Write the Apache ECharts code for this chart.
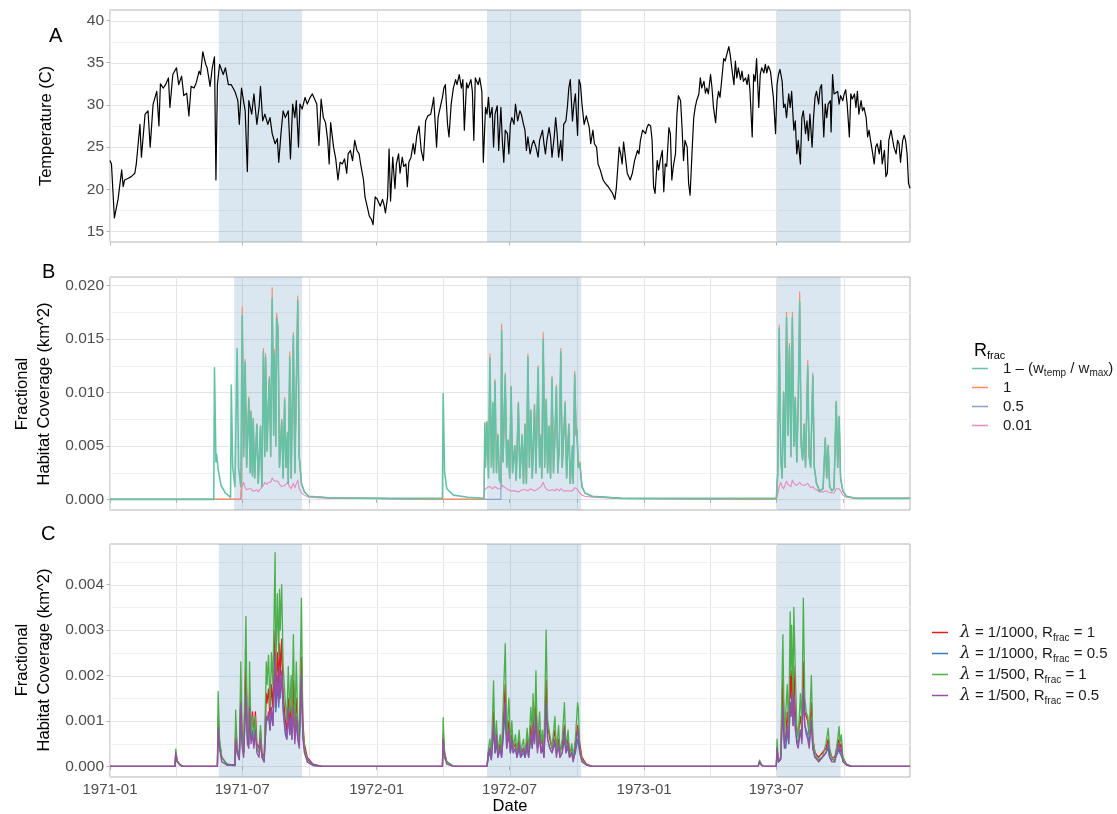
<!DOCTYPE html>
<html>
<head>
<meta charset="utf-8">
<script src="https://cdn.jsdelivr.net/npm/echarts@6/dist/echarts.min.js"></script>
<style>
  html, body { margin: 0; padding: 0; background: #fff; }
  #chart { width: 1117px; height: 814px; }
</style>
</head>
<body>
<div id="chart"></div>
<script>
// ---------- time helpers (x values are days since 1971-01-01) ----------
const DAY = 86400000;
const START = Date.parse('1971-01-01');
const END_DAY = 1095;
const dayOf = s => Math.round((Date.parse(s) - START) / DAY);

// ---------- axis breaks ----------
const majorDates = ['1971-01-01', '1971-07-01', '1972-01-01', '1972-07-01', '1973-01-01', '1973-07-01'];
const quarterDates = ['1971-04-01', '1971-10-01', '1972-04-01', '1972-10-01', '1973-04-01', '1973-10-01'];
const tempTicks = [15, 20, 25, 30, 35, 40];
const tempMinor = [17.5, 22.5, 27.5, 32.5, 37.5];
const coverTicksB = [0, 0.005, 0.01, 0.015, 0.02];
const coverMinorB = [0.0025, 0.0075, 0.0125, 0.0175];
const coverTicksC = [0, 0.001, 0.002, 0.003, 0.004];
const coverMinorC = [0.0005, 0.0015, 0.0025, 0.0035, 0.0045];

// ---------- shaded windows [startDay, endDay] ----------
const windowsAC = [[149, 263], [516, 645], [913, 1000]];
const windowsB = [[170, 263], [516, 645], [913, 1000]];

// ---------- panel A: daily water temperature (day, °C) ----------
const temperature = [
  [0,23.4],[2,23.0],[6,16.6],[11,18.8],[16,22.3],[18,20.3],[20,21.1],[25,21.3],[29,21.5],[34,21.9],
  [36,23.0],[41,27.7],[43,23.8],[48,28.9],[52,29.3],[55,25.0],[59,30.1],[64,31.6],[67,27.5],[69,32.5],
  [73,32.0],[76,32.4],[80,33.2],[82,29.7],[86,33.6],[91,34.4],[94,32.4],[98,33.4],[101,31.1],[105,31.4],
  [108,28.7],[111,32.2],[115,32.0],[118,32.6],[122,34.0],[124,33.6],[127,36.3],[131,34.8],[133,34.4],[137,32.2],
  [140,34.4],[143,35.7],[145,21.1],[147,32.4],[150,34.8],[155,33.6],[158,34.4],[162,32.4],[166,32.4],[171,31.6],
  [175,30.5],[177,27.7],[180,32.0],[185,29.3],[188,22.1],[190,30.5],[194,28.9],[197,31.3],[201,27.7],[204,29.7],
  [206,32.2],[209,28.1],[212,28.9],[216,27.7],[219,28.5],[222,26.6],[226,25.4],[229,26.0],[231,23.2],[234,26.6],
  [237,29.3],[240,28.5],[244,29.3],[247,23.6],[250,30.1],[253,28.5],[255,30.5],[258,25.0],[260,30.1],[263,29.5],
  [267,30.9],[270,30.1],[274,30.9],[277,31.3],[280,30.7],[283,30.1],[286,25.2],[289,30.7],[292,28.5],[295,27.9],
  [298,25.8],[300,23.0],[302,27.9],[306,25.0],[309,23.6],[312,21.1],[315,23.2],[318,23.0],[321,23.6],[324,21.9],
  [326,24.2],[329,24.6],[332,23.4],[335,25.8],[338,24.6],[341,24.2],[343,23.0],[347,21.1],[349,19.1],[353,17.6],
  [355,16.8],[358,16.4],[360,15.8],[363,19.1],
  [366,18.8],[370,18.0],[373,18.8],[375,18.2],[377,17.2],[380,19.1],[382,24.8],[384,18.6],[387,23.8],[390,20.1],
  [392,23.0],[395,24.2],[397,21.9],[400,23.8],[402,22.7],[405,23.0],[407,20.3],[409,23.2],[412,23.8],[415,25.4],
  [417,24.2],[420,26.4],[423,27.5],[426,24.6],[429,23.4],[432,28.1],[435,28.7],[439,28.9],[442,30.3],[443,30.9],
  [447,25.0],[449,28.5],[452,29.7],[455,30.9],[457,32.0],[459,32.4],[462,27.7],[464,26.2],[467,30.1],[470,32.0],
  [473,33.0],[475,32.4],[478,33.6],[481,32.0],[483,33.0],[485,27.0],[488,32.6],[490,32.0],[494,33.0],[496,31.6],
  [498,25.8],[500,33.2],[504,32.4],[506,33.2],[509,31.6],[511,23.2],[514,29.7],[516,28.9],[518,30.9],[520,28.5],
  [523,29.7],[525,25.0],[527,28.9],[530,29.9],[532,24.6],[535,29.7],[537,25.8],[539,23.2],[541,27.0],[544,26.6],
  [546,24.2],[548,27.7],[550,28.5],[553,27.7],[555,30.1],[558,28.1],[561,29.3],[563,28.9],[566,27.7],[568,27.0],
  [570,24.6],[572,26.2],[575,24.2],[578,25.4],[580,25.8],[583,25.0],[586,23.8],[588,25.8],[592,27.0],[594,25.4],
  [596,24.2],[598,25.8],[601,27.3],[603,26.2],[605,23.8],[608,26.2],[610,28.5],[612,26.6],[614,23.8],[617,25.8],
  [619,23.4],[621,27.7],[624,28.1],[626,29.7],[628,32.0],[630,33.0],[633,28.1],[635,30.1],[637,31.3],[640,26.4],
  [642,33.0],[644,32.4],[646,30.1],[649,27.7],[652,28.7],[656,27.3],[658,25.4],[661,27.0],[663,25.4],[666,25.0],
  [668,23.0],[671,22.3],[675,21.1],[678,20.7],[682,20.3],[685,19.9],[688,19.5],[691,18.8],[693,20.1],[697,25.0],
  [699,24.2],[701,23.0],[703,25.6],[706,23.4],[708,21.9],[712,21.1],[715,21.9],[718,23.4],[722,24.6],[724,24.2],
  [726,25.8],[729,27.0],
  [731,27.1],[733,26.6],[735,27.3],[737,27.7],[740,27.5],[742,25.8],[744,20.3],[746,19.5],[749,23.4],[751,22.3],
  [753,23.4],[756,24.6],[758,19.7],[760,23.0],[762,22.7],[765,27.3],[767,26.6],[769,21.1],[771,22.7],[774,24.2],
  [776,28.9],[778,31.1],[781,30.5],[783,27.3],[785,23.4],[787,25.8],[790,25.0],[792,20.7],[794,19.3],[797,25.0],
  [799,28.5],[801,29.7],[803,30.5],[806,31.3],[808,33.2],[810,32.0],[813,32.8],[815,31.4],[817,32.0],[819,31.3],
  [822,33.6],[824,32.0],[826,29.7],[829,27.9],[831,30.5],[833,31.6],[835,30.9],[838,33.6],[840,35.5],[842,35.2],
  [844,35.9],[847,36.9],[849,35.9],[851,34.4],[854,32.4],[856,35.2],[858,33.2],[860,34.4],[863,33.0],[865,34.0],
  [867,32.8],[870,33.2],[872,32.4],[874,33.6],[876,31.6],[879,26.2],[881,33.6],[883,32.8],[885,35.5],[888,29.7],
  [890,33.6],[892,34.4],[895,33.8],[897,34.8],[899,33.8],[901,34.6],[904,34.0],[906,32.4],[908,30.9],[911,26.6],
  [913,32.4],[915,33.6],[917,34.2],[920,32.8],[922,29.7],[924,30.1],[926,28.5],[929,31.3],[931,29.7],[933,31.6],
  [936,27.0],[938,28.1],[940,24.2],[942,25.8],[945,23.0],[947,28.5],[949,29.3],[952,26.6],[954,28.1],[956,25.8],
  [958,28.9],[961,25.0],[963,28.5],[965,30.9],[967,31.6],[970,30.1],[972,32.0],[974,32.4],[977,26.2],[979,30.1],
  [981,28.5],[983,30.1],[986,30.5],[987,26.8],[989,33.6],[991,31.3],[993,31.1],[996,31.6],[998,30.1],[1000,31.1],
  [1003,30.5],[1005,31.3],[1007,31.8],[1009,30.1],[1012,26.2],[1014,31.3],[1016,30.7],[1019,31.3],[1021,29.7],[1023,31.6],
  [1025,28.9],[1028,30.5],[1030,29.3],[1032,29.7],[1035,28.5],[1037,26.2],[1039,27.0],[1041,25.8],[1044,24.2],[1046,23.0],
  [1048,25.0],[1050,25.4],[1053,24.2],[1055,25.8],[1057,23.0],[1060,24.6],[1062,21.5],[1064,21.9],[1066,25.8],[1069,27.0],
  [1071,27.1],[1073,25.0],[1076,24.2],[1078,25.8],[1080,25.4],[1082,23.2],[1085,25.8],[1087,26.4],[1089,25.8],[1091,24.2],
  [1093,20.7],[1095,20.1]
];

// ---------- panel B: fractional habitat coverage by R_frac (km^2) ----------
const bDays = [
  0,142,143,145,146,148,152,158,165,166,
  168,171,174,176,179,180,181,183,185,187,
  190,192,193,195,196,198,201,203,206,208,
  210,212,213,215,217,218,220,222,224,225,
  227,228,230,232,235,237,239,241,243,244,
  246,248,251,253,257,259,262,266,272,300,
  360,455,456,458,461,470,490,512,513,514,
  516,518,520,522,524,525,527,529,531,533,
  535,536,538,541,543,545,547,549,551,554,
  556,559,561,564,566,568,570,572,574,576,
  578,581,583,586,588,590,591,593,595,597,
  599,601,603,605,607,609,611,613,615,617,
  619,621,623,625,628,630,633,634,636,638,
  639,641,643,646,650,660,700,912,914,916,
  918,920,922,924,926,928,930,932,934,936,
  938,940,942,944,946,948,950,952,955,957,
  959,962,964,967,971,976,979,981,983,985,
  988,991,994,996,998,1000,1003,1008,1020,1095
];
const bFormula = [
  0,0,.0123,.0035,.0042,.0028,.0013,.0006,.0002,.0107,
  .0030,.0012,.0141,.0030,.0012,.0012,.0172,.0040,.0128,.0030,
  .0094,.0025,.0082,.0022,.0075,.0020,.0070,.0015,.0068,.0012,
  .0138,.0040,.0133,.0045,.0093,.0113,.0040,.0188,.0060,.0136,
  .0050,.0169,.0160,.0030,.0074,.0020,.0093,.0030,.0062,.0015,
  .0133,.0020,.0153,.0025,.0186,.0040,.0015,.0007,.0003,.00015,
  .0001,.0001,.0099,.0025,.0010,.0004,.0002,.0001,.0071,.0030,
  .0072,.0020,.0132,.0030,.0090,.0025,.0110,.0025,.0060,.0018,
  .0015,.0158,.0035,.0116,.0030,.0055,.0020,.0105,.0025,.0050,
  .0018,.0090,.0020,.0060,.0015,.0070,.0015,.0133,.0030,.0083,
  .0020,.0088,.0025,.0123,.0030,.0060,.0020,.0150,.0030,.0093,
  .0025,.0068,.0020,.0113,.0025,.0060,.0105,.0025,.0050,.0138,
  .0030,.0060,.0090,.0020,.0070,.0015,.0050,.0015,.0117,.0060,
  .0065,.0030,.0034,.0012,.0006,.0003,.0001,.0001,.0025,.0160,
  .0040,.0020,.0100,.0030,.0170,.0060,.0143,.0040,.0170,.0050,
  .0095,.0035,.0090,.0185,.0050,.0037,.0070,.0030,.0125,.0040,
  .0030,.0116,.0030,.0015,.0008,.0010,.0057,.0020,.0050,.0012,
  .0008,.0010,.0091,.0030,.0077,.0020,.0008,.0003,.0001,.0001
];
const bR1 = [
  0,0,0,0,0,0,0,0,0,0,
  0,0,0,0,0,.0012,.0180,.0042,.0131,.0031,
  .0096,.0026,.0083,.0023,.0076,.0020,.0071,.0015,.0069,.0012,
  .0141,.0041,.0136,.0046,.0095,.0115,.0041,.0198,.0062,.0140,
  .0051,.0174,.0162,.0031,.0075,.0020,.0095,.0030,.0063,.0015,
  .0138,.0020,.0156,.0025,.0190,.0041,.0015,.0007,.0003,.00015,
  .0001,0,0,0,0,0,0,0,.0072,.0031,
  .0073,.0021,.0136,.0031,.0091,.0025,.0112,.0025,.0061,.0018,
  .0015,.0164,.0036,.0118,.0030,.0056,.0020,.0106,.0025,.0050,
  .0018,.0091,.0020,.0061,.0015,.0071,.0015,.0136,.0030,.0084,
  .0020,.0089,.0025,.0125,.0030,.0061,.0020,.0156,.0030,.0094,
  .0025,.0069,.0020,.0115,.0025,.0061,.0107,.0025,.0050,.0141,
  .0030,.0061,.0092,.0020,.0071,.0015,.0050,.0015,.0120,.0061,
  .0066,.0030,.0035,.0012,.0006,.0003,.0001,0,.0025,.0163,
  .0041,.0020,.0101,.0030,.0175,.0061,.0146,.0041,.0175,.0051,
  .0096,.0035,.0091,.0194,.0051,.0037,.0071,.0030,.0130,.0041,
  .0030,.0118,.0030,.0015,.0008,.0010,.0058,.0020,.0051,.0012,
  .0008,.0010,.0092,.0030,.0078,.0020,.0008,.0003,.0001,.0001
];
const bR05 = [
  0,0,0,0,0,0,0,0,0,0,
  0,0,0,0,0,.0012,.0170,.0050,.0125,.0030,
  .0090,.0025,.0080,.0022,.0072,.0020,.0068,.0015,.0065,.0012,
  .0135,.0063,.0130,.0065,.0090,.0110,.0060,.0185,.0085,.0132,
  .0070,.0165,.0155,.0030,.0072,.0020,.0090,.0030,.0060,.0015,
  .0130,.0020,.0150,.0025,.0182,.0040,.0015,.0007,.0003,.00015,
  .0001,0,0,0,0,0,0,0,0,0,
  0,0,0,0,0,0,0,0,0,0,
  0,.0155,.0035,.0112,.0030,.0054,.0020,.0100,.0025,.0050,
  .0018,.0088,.0020,.0058,.0015,.0068,.0015,.0130,.0045,.0080,
  .0020,.0085,.0025,.0118,.0030,.0058,.0020,.0145,.0045,.0090,
  .0025,.0066,.0020,.0110,.0025,.0058,.0100,.0025,.0050,.0133,
  .0030,.0058,.0087,.0020,.0068,.0015,.0049,.0015,.0113,.0060,
  .0064,.0030,.0034,.0012,.0006,.0003,.0001,0,.0025,.0158,
  .0040,.0020,.0098,.0030,.0165,.0090,.0140,.0070,.0168,.0050,
  .0090,.0035,.0088,.0180,.0055,.0037,.0068,.0030,.0122,.0040,
  .0030,.0112,.0030,.0015,.0008,.0010,.0055,.0020,.0049,.0012,
  .0008,.0010,.0090,.0030,.0075,.0020,.0008,.0003,.0001,.0001
];
const bR001 = [
  0,0,0,0,0,0,0,0,0,0,
  0,0,0,0,0,.0010,.0013,.0016,.0011,.0009,
  .0010,.0009,.0010,.0008,.0009,.0008,.0009,.0007,.0010,.0009,
  .0013,.0016,.0015,.0014,.0016,.0017,.0016,.0020,.0018,.0019,
  .0017,.0018,.0017,.0014,.0012,.0011,.0013,.0012,.0016,.0014,
  .0012,.0010,.0015,.0011,.0018,.0010,.0006,.0004,.0002,.0001,
  .0001,0,0,0,0,0,0,0,.0009,.0010,
  .0011,.0010,.0012,.0011,.0010,.0010,.0012,.0011,.0010,.0009,
  .0010,.0014,.0012,.0011,.0010,.0009,.0008,.0008,.0009,.0008,
  .0007,.0007,.0008,.0009,.0008,.0009,.0008,.0008,.0009,.0010,
  .0009,.0008,.0009,.0010,.0011,.0012,.0013,.0016,.0012,.0010,
  .0009,.0008,.0008,.0009,.0008,.0008,.0010,.0009,.0008,.0010,
  .0009,.0008,.0009,.0008,.0008,.0007,.0008,.0008,.0011,.0010,
  .0010,.0008,.0006,.0004,.0003,.0002,.0001,0,.0005,.0012,
  .0016,.0012,.0010,.0011,.0017,.0014,.0013,.0012,.0018,.0015,
  .0014,.0013,.0013,.0016,.0014,.0013,.0013,.0012,.0015,.0013,
  .0011,.0012,.0010,.0009,.0007,.0007,.0008,.0007,.0007,.0006,
  .0006,.0006,.0010,.0009,.0010,.0008,.0004,.0002,.0001,.0001
];

// ---------- panel C: coverage by decay rate and R_frac (km^2) ----------
const cDays = [
  0,89,90,92,96,100,147,148,150,153,
  160,171,172,174,177,179,181,183,186,188,
  190,191,193,195,197,199,201,204,206,208,
  211,214,215,217,219,221,223,226,227,229,
  231,232,233,235,237,240,242,244,246,248,
  249,251,253,255,257,259,262,264,266,270,
  278,290,455,456,458,461,470,516,518,520,
  522,525,527,529,531,534,536,541,543,546,
  548,550,552,555,557,560,562,566,568,571,
  573,576,578,579,581,583,585,588,590,592,
  594,597,599,602,605,609,611,614,616,619,
  622,624,627,629,632,634,637,640,641,643,
  646,652,660,887,889,892,895,912,913,915,
  918,921,923,925,927,929,931,932,933,935,
  936,938,940,942,945,947,949,951,953,955,
  957,960,962,965,970,975,980,983,985,988,
  992,996,998,999,1001,1003,1008,1015,1095
];
const cL1000R1 = [
  0,0,.0003,.00012,.00004,0,0,.0011,.0005,.0002,
  .00005,.00003,.0009,.0004,.0002,.0016,.0006,.0004,.0022,.0008,
  .0007,.0016,.0008,.0012,.0007,.0012,.0005,.0004,.0008,.0003,
  .0002,.0016,.0014,.0017,.0011,.0018,.0013,.0030,.0016,.0025,
  .0018,.0027,.0020,.0028,.0016,.0010,.0008,.0015,.0009,.0014,
  .0008,.0019,.0008,.0015,.0009,.0006,.0024,.0010,.0005,.0002,
  .00005,0,0,.0007,.0003,.0001,0,0,.0003,.0004,
  .0002,.0012,.0004,.0007,.0003,.0005,.0003,.0018,.0006,.0010,
  .0005,.0007,.0004,.0005,.0003,.0006,.0003,.0004,.0003,.0006,
  .0003,.0009,.0006,.0011,.0007,.0014,.0005,.0008,.0005,.0006,
  .0003,.0019,.0009,.0006,.0004,.0008,.0004,.0006,.0003,.0005,
  .0009,.0004,.0006,.0003,.0004,.0002,.0005,.0009,.0009,.0005,
  .0002,.00005,0,0,.0001,.00003,0,0,.0004,.0001,
  .0002,.0019,.0007,.0006,.0012,.0008,.0021,.0015,.0021,.0013,
  .0022,.0012,.0008,.0007,.0011,.0008,.0023,.0012,.0011,.0010,
  .0007,.0014,.0006,.0003,.0002,.0003,.0004,.0006,.0003,.0002,
  .0002,.0005,.0006,.0004,.0005,.0002,.00005,0,0
];
const cL1000R05 = [
  0,0,.00025,.0001,.00003,0,0,.0008,.0004,.0002,
  .00005,.00003,.0006,.0003,.00015,.0011,.0005,.0003,.0015,.0006,
  .0005,.0012,.0006,.0008,.0005,.0008,.0004,.0003,.0006,.0002,
  .00015,.0010,.0010,.0011,.0008,.0012,.0009,.0021,.0012,.0018,
  .0013,.0020,.0015,.0020,.0012,.0007,.0006,.0011,.0007,.0010,
  .0006,.0013,.0006,.0010,.0006,.0005,.0017,.0007,.0004,.00015,
  .00004,0,0,.0005,.0002,.0001,0,0,.0002,.0003,
  .00015,.0008,.0003,.0005,.0002,.0004,.0002,.0012,.0004,.0007,
  .0003,.0005,.0003,.0004,.0002,.0004,.0002,.0003,.0002,.0004,
  .0002,.0006,.0004,.0008,.0005,.0010,.0004,.0006,.0003,.0004,
  .0002,.0013,.0006,.0004,.0003,.0005,.0003,.0004,.0002,.0003,
  .0006,.0003,.0004,.0002,.0003,.00015,.0003,.0006,.0006,.0003,
  .00015,.00004,0,0,.00008,.00002,0,0,.0003,.0001,
  .00015,.0013,.0005,.0004,.0008,.0005,.0014,.0011,.0015,.0009,
  .0015,.0008,.0006,.0005,.0008,.0006,.0016,.0009,.0008,.0007,
  .0005,.0010,.0004,.0002,.00015,.0002,.0003,.0004,.0002,.00015,
  .00015,.0003,.0004,.0003,.0003,.00015,.00004,0,0
];
const cL500R1 = [
  0,0,.00038,.00012,.00003,0,0,.00165,.0006,.0002,
  .00003,.00002,.00124,.0004,.0002,.0023,.0005,.0003,.0033,.0007,
  .0006,.0023,.0007,.0011,.0006,.0011,.0004,.0003,.0009,.0002,
  .0001,.0023,.0018,.00245,.0013,.0025,.0018,.0047,.0020,.0038,
  .0024,.0039,.0030,.0040,.0022,.0014,.0010,.0022,.0012,.0020,
  .0010,.0029,.0009,.0023,.0010,.0006,.0037,.0009,.0004,.0001,
  .00002,0,0,.00107,.0003,.0001,0,0,.00038,.0006,
  .0002,.00188,.0004,.0010,.0003,.0007,.0003,.0027,.0006,.0015,
  .0005,.0010,.0004,.0007,.0003,.0008,.0003,.0006,.0002,.00084,
  .0003,.0013,.0007,.0016,.0008,.0021,.0004,.0012,.0005,.0008,
  .0003,.0030,.0010,.0007,.0004,.0011,.0003,.0009,.0003,.0006,
  .0014,.0004,.0008,.0002,.0005,.0002,.0006,.0014,.0013,.0004,
  .00015,.00003,0,0,.00014,.00003,0,0,.0006,.0001,
  .0002,.0029,.0006,.0006,.0018,.0007,.0034,.0020,.0031,.0015,
  .0035,.0021,.0009,.0006,.0016,.0009,.0037,.0015,.0012,.0011,
  .0007,.0020,.0006,.0003,.0001,.0002,.0005,.00084,.0004,.0002,
  .0001,.0006,.00088,.0005,.0007,.0002,.00003,0,0
];
const cL500R05 = [
  0,0,.0003,.0001,.00003,0,0,.00085,.0004,.0001,
  .00003,.00002,.0006,.0003,.00015,.0014,.0004,.0002,.0016,.0005,
  .0004,.0013,.0005,.0007,.0004,.0008,.0003,.0002,.0006,.0002,
  .0001,.0011,.0010,.0012,.0008,.0013,.0009,.0025,.0013,.0020,
  .0014,.0022,.0016,.0021,.0013,.0008,.0006,.0013,.0007,.0011,
  .0006,.0013,.0005,.0011,.0006,.0004,.0020,.0006,.0003,.0001,
  .00002,0,0,.0006,.0002,.00005,0,0,.0003,.0004,
  .00015,.00095,.0003,.0007,.0002,.0004,.0002,.0014,.0004,.0008,
  .0003,.0006,.0003,.0004,.0002,.0005,.0002,.0004,.0002,.0005,
  .0002,.0007,.0004,.0009,.0005,.0011,.0003,.0007,.0003,.0005,
  .0002,.0014,.0006,.0004,.0003,.0006,.0002,.0005,.0002,.0003,
  .0008,.0003,.0005,.0002,.0003,.0001,.0004,.0008,.0007,.0003,
  .0001,.00003,0,0,.0001,.00002,0,0,.0004,.0001,
  .00015,.0013,.0004,.0004,.0009,.0005,.0014,.0011,.0016,.0009,
  .0016,.0009,.0005,.0004,.0008,.0005,.0017,.0009,.0007,.0006,
  .0004,.0010,.0004,.0002,.0001,.0002,.0003,.0005,.0002,.0001,
  .0001,.0004,.0005,.0003,.0004,.0001,.00003,0,0
];

// ---------- styling ----------
const FONT = '"Liberation Sans", Arial, Helvetica, sans-serif';
const TICK_COLOR = '#4d4d4d';
const BORDER = '#b3b3b3';
const GRID_MAJOR = '#e4e4e4';
const GRID_MINOR = '#f1f1f1';
const BAND_FILL = 'rgba(70,130,180,0.2)';

const majorDays = majorDates.map(dayOf);
const quarterDays = majorDates.concat(quarterDates).map(dayOf).sort((a, b) => a - b);

const gridRects = [
  { left: 110, top: 10, width: 800, height: 232 },
  { left: 110, top: 277, width: 800, height: 233 },
  { left: 110, top: 544, width: 800, height: 233 }
];

function monthLabel(v) {
  const d = new Date(START + v * DAY);
  return d.getUTCFullYear() + '-' + String(d.getUTCMonth() + 1).padStart(2, '0');
}

// background grid lines drawn through the axis scales
function gridLineSeries(gi, vLines, hMajor, hMinor) {
  const data = [];
  vLines.forEach(t => data.push([t, 0, 0, 1]));
  hMajor.forEach(v => data.push([0, v, 1, 1]));
  hMinor.forEach(v => data.push([0, v, 1, 0]));
  return {
    type: 'custom', xAxisIndex: gi, yAxisIndex: gi, z: 0, silent: true, animation: false,
    data,
    renderItem(params, api) {
      const cs = params.coordSys;
      const pt = api.coord([api.value(0), api.value(1)]);
      const stroke = api.value(3) ? GRID_MAJOR : GRID_MINOR;
      if (api.value(2) === 0) {
        const x = Math.round(pt[0]) + 0.5;
        return { type: 'line', shape: { x1: x, y1: cs.y, x2: x, y2: cs.y + cs.height }, style: { stroke, lineWidth: 1 } };
      }
      const y = Math.round(pt[1]) + 0.5;
      return { type: 'line', shape: { x1: cs.x, y1: y, x2: cs.x + cs.width, y2: y }, style: { stroke, lineWidth: 1 } };
    }
  };
}

// shaded seasonal windows
function bandSeries(gi, windows) {
  return {
    type: 'custom', xAxisIndex: gi, yAxisIndex: gi, z: 1, silent: true, animation: false,
    data: windows.map(w => [w[0], 0, w[1]]),
    renderItem(params, api) {
      const cs = params.coordSys;
      const x0 = api.coord([api.value(0), 0])[0];
      const x1 = api.coord([api.value(2), 0])[0];
      return { type: 'rect', shape: { x: x0, y: cs.y, width: x1 - x0, height: cs.height }, style: { fill: BAND_FILL } };
    }
  };
}

function lineSeries(name, gi, days, values, color, width) {
  return {
    type: 'line', name, xAxisIndex: gi, yAxisIndex: gi, z: 3,
    data: days.map((d, i) => [d, values[i]]),
    symbol: 'none', showSymbol: false, silent: true, animation: false,
    itemStyle: { color },
    lineStyle: { color, width, join: 'round' }
  };
}

function xAxis(gi, tickDays, showLabels) {
  return {
    type: 'value', gridIndex: gi, min: 0, max: END_DAY,
    axisLine: { show: false }, splitLine: { show: false },
    axisTick: { show: true, customValues: tickDays, length: 3.5, lineStyle: { color: BORDER, width: 1 } },
    axisLabel: {
      show: showLabels, customValues: majorDays, formatter: monthLabel,
      color: TICK_COLOR, fontSize: 15, fontFamily: FONT, margin: 5
    }
  };
}

function yAxis(gi, min, max, ticks, fmt) {
  return {
    type: 'value', gridIndex: gi, min, max,
    axisLine: { show: false }, splitLine: { show: false },
    axisTick: { show: true, customValues: ticks, length: 3.5, lineStyle: { color: BORDER, width: 1 } },
    axisLabel: { customValues: ticks, formatter: fmt, color: TICK_COLOR, fontSize: 15.5, fontFamily: FONT, margin: 6 }
  };
}

// legend labels with subscripts
const nameFormula = '1 – (w_temp / w_max)';
const nameR1 = '1', nameR05 = '0.5', nameR001 = '0.01';
const nameC1 = 'λ = 1/1000, R_frac = 1';
const nameC2 = 'λ = 1/1000, R_frac = 0.5';
const nameC3 = 'λ = 1/500, R_frac = 1';
const nameC4 = 'λ = 1/500, R_frac = 0.5';

const legendTextB = {
  [nameFormula]: '{g| }{t|1 – (w}{s|temp}{t| / w}{s|max}{t|)}',
  [nameR1]: '{g| }{t|1}',
  [nameR05]: '{g| }{t|0.5}',
  [nameR001]: '{g| }{t|0.01}'
};
const legendTextC = {
  [nameC1]: '{g| }{l|λ}{t| = 1/1000, R}{s|frac}{t| = 1}',
  [nameC2]: '{g| }{l|λ}{t| = 1/1000, R}{s|frac}{t| = 0.5}',
  [nameC3]: '{g| }{l|λ}{t| = 1/500, R}{s|frac}{t| = 1}',
  [nameC4]: '{g| }{l|λ}{t| = 1/500, R}{s|frac}{t| = 0.5}'
};
function richStyles(gap, lh) {
  return {
    g: { width: gap, fontSize: 15, lineHeight: lh, height: lh },
    t: { fontSize: 15, fontFamily: FONT, color: '#1a1a1a', lineHeight: lh, height: lh },
    s: { fontSize: 10, fontFamily: FONT, color: '#1a1a1a', lineHeight: 9, verticalAlign: 'bottom' },
    l: { fontSize: 17, fontFamily: '"DejaVu Serif", serif', fontStyle: 'italic', color: '#1a1a1a', lineHeight: lh, height: lh }
  };
}

const chart = echarts.init(document.getElementById('chart'), null, { renderer: 'canvas', width: 1117, height: 814 });

const option = {
  animation: false,
  backgroundColor: '#ffffff',
  textStyle: { fontFamily: FONT },
  grid: gridRects.map(r => Object.assign({ show: true, borderColor: BORDER, borderWidth: 1, backgroundColor: '#ffffff', containLabel: false }, r)),
  xAxis: [
    xAxis(0, majorDays, false),
    xAxis(1, quarterDays, false),
    xAxis(2, majorDays, true)
  ],
  yAxis: [
    yAxis(0, 13.75, 41.25, tempTicks, v => String(v)),
    yAxis(1, -0.00099, 0.02079, coverTicksB, v => v.toFixed(3)),
    yAxis(2, -0.000233, 0.004893, coverTicksC, v => v.toFixed(3))
  ],
  legend: [
    {
      orient: 'vertical', left: 972, top: 359, padding: 0, itemWidth: 16, itemHeight: 1.5, itemGap: 0,
      icon: 'rect', selectedMode: false,
      data: [nameFormula, nameR1, nameR05, nameR001],
      formatter: n => legendTextB[n],
      textStyle: { fontFamily: FONT, fontSize: 15, lineHeight: 19, height: 19, color: '#1a1a1a', rich: richStyles(10, 19) }
    },
    {
      orient: 'vertical', left: 932, top: 622, padding: 0, itemWidth: 16, itemHeight: 1.5, itemGap: 0,
      icon: 'rect', selectedMode: false,
      data: [nameC1, nameC2, nameC3, nameC4],
      formatter: n => legendTextC[n],
      textStyle: { fontFamily: FONT, fontSize: 15, lineHeight: 21, height: 21, color: '#1a1a1a', rich: richStyles(7, 21) }
    }
  ],
  graphic: [
    { type: 'text', x: 49, y: 36, style: { text: 'A', fontSize: 20, fontFamily: FONT, fill: '#000', align: 'left', verticalAlign: 'middle' } },
    { type: 'text', x: 42, y: 272, style: { text: 'B', fontSize: 20, fontFamily: FONT, fill: '#000', align: 'left', verticalAlign: 'middle' } },
    { type: 'text', x: 41, y: 534, style: { text: 'C', fontSize: 20, fontFamily: FONT, fill: '#000', align: 'left', verticalAlign: 'middle' } },
    { type: 'text', x: 46, y: 126, rotation: Math.PI / 2,
      style: { text: 'Temperature (C)', fontSize: 16.5, fontFamily: FONT, fill: '#000', align: 'center', verticalAlign: 'middle' } },
    { type: 'text', x: 33, y: 394, rotation: Math.PI / 2,
      style: { text: 'Fractional\nHabitat Coverage (km^2)', fontSize: 16.5, lineHeight: 22, fontFamily: FONT, fill: '#000', align: 'center', verticalAlign: 'middle' } },
    { type: 'text', x: 33, y: 660, rotation: Math.PI / 2,
      style: { text: 'Fractional\nHabitat Coverage (km^2)', fontSize: 16.5, lineHeight: 22, fontFamily: FONT, fill: '#000', align: 'center', verticalAlign: 'middle' } },
    { type: 'text', x: 510, y: 806, style: { text: 'Date', fontSize: 16.5, fontFamily: FONT, fill: '#000', align: 'center', verticalAlign: 'middle' } },
    { type: 'text', x: 974, y: 351,
      style: { text: '{r|R}{f|frac}', align: 'left', verticalAlign: 'middle',
        rich: {
          r: { fontSize: 18, fontFamily: FONT, fill: '#000', lineHeight: 20 },
          f: { fontSize: 11, fontFamily: FONT, fill: '#000', lineHeight: 10, verticalAlign: 'bottom' }
        } } }
  ],
  series: [
    // grid lines and seasonal windows
    gridLineSeries(0, majorDays, tempTicks, tempMinor),
    gridLineSeries(1, quarterDays, coverTicksB, coverMinorB),
    gridLineSeries(2, quarterDays, coverTicksC, coverMinorC),
    bandSeries(0, windowsAC),
    bandSeries(1, windowsB),
    bandSeries(2, windowsAC),
    // panel A
    lineSeries('Temperature', 0, temperature.map(p => p[0]), temperature.map(p => p[1]), '#000000', 1.2),
    // panel B (drawn bottom to top)
    lineSeries(nameR001, 1, bDays, bR001, '#e78ac3', 1.1),
    lineSeries(nameR05, 1, bDays, bR05, '#8da0cb', 1.1),
    lineSeries(nameR1, 1, bDays, bR1, '#fc8d62', 1.1),
    lineSeries(nameFormula, 1, bDays, bFormula, '#66c2a5', 1.6),
    // panel C
    lineSeries(nameC1, 2, cDays, cL1000R1, '#e41a1c', 1.3),
    lineSeries(nameC2, 2, cDays, cL1000R05, '#377eb8', 1.3),
    lineSeries(nameC3, 2, cDays, cL500R1, '#4daf4a', 1.3),
    lineSeries(nameC4, 2, cDays, cL500R05, '#984ea3', 1.3)
  ]
};

chart.setOption(option);
</script>
</body>
</html>
